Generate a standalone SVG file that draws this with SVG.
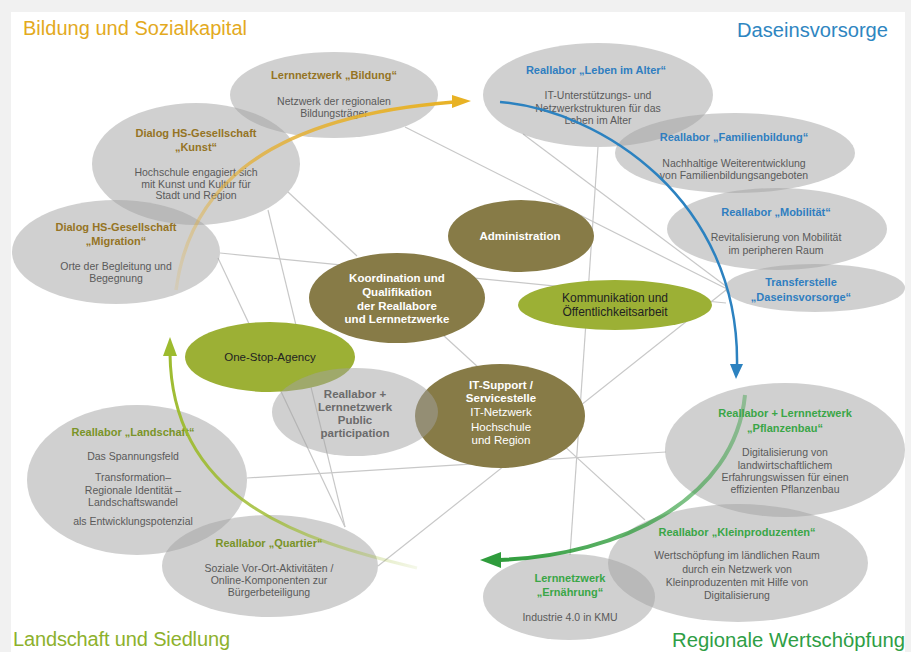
<svg xmlns="http://www.w3.org/2000/svg" width="911" height="652" viewBox="0 0 911 652">
<style>
.g{fill:#a1a1a1;fill-opacity:0.5}
.o{fill:#877b47}
.lg{fill:#9cb035}
text{font-family:"Liberation Sans",Arial,sans-serif;text-anchor:middle}
.tt{font-size:11px;font-weight:bold}
.b{font-size:10.5px;fill:#5a5a5a}
.gold{fill:#957424}
.blue{fill:#2f7ec0}
.olv{fill:#7a9428}
.grn{fill:#3aa647}
.w{fill:#ffffff;font-size:11.5px}
.wb{fill:#ffffff;font-size:11.5px;font-weight:bold}
.dk{fill:#222222;font-size:12px}
.pp{fill:#6b6b6b;font-size:11.5px;font-weight:bold}
.cat{font-size:20px}
.conn line{stroke:#c8c8c8;stroke-width:1.2;fill:none}
</style>
<defs>
<linearGradient id="gGold" gradientUnits="userSpaceOnUse" x1="176" y1="290" x2="460" y2="102">
<stop offset="0" stop-color="#e3b03a" stop-opacity="0.15"/>
<stop offset="0.4" stop-color="#e3b03a" stop-opacity="0.8"/>
<stop offset="1" stop-color="#e8b224" stop-opacity="1"/>
</linearGradient>
<linearGradient id="gOlive" gradientUnits="userSpaceOnUse" x1="417" y1="568" x2="170" y2="354">
<stop offset="0" stop-color="#9dbb2e" stop-opacity="0.1"/>
<stop offset="0.45" stop-color="#9dbb2e" stop-opacity="0.8"/>
<stop offset="1" stop-color="#9dbb2e" stop-opacity="1"/>
</linearGradient>
<linearGradient id="gGreen" gradientUnits="userSpaceOnUse" x1="745" y1="395" x2="500" y2="560">
<stop offset="0" stop-color="#2f9c3c" stop-opacity="0.4"/>
<stop offset="1" stop-color="#2f9c3c" stop-opacity="1"/>
</linearGradient>
</defs>

<rect x="0" y="0" width="911" height="652" fill="#f1f1f1"/>
<rect x="11" y="12" width="894" height="640" fill="#ffffff"/>

<g id="categories">
<text class="cat" x="23" y="35" style="text-anchor:start;fill:#e3aa1e" textLength="224" lengthAdjust="spacing">Bildung  und  Sozialkapital</text>
<text class="cat" x="888" y="37" style="text-anchor:end;fill:#2e86c1" textLength="151" lengthAdjust="spacingAndGlyphs">Daseinsvorsorge</text>
<text class="cat" x="13" y="646" style="text-anchor:start;fill:#8db12c" textLength="217" lengthAdjust="spacing">Landschaft und  Siedlung</text>
<text class="cat" x="672" y="647" style="text-anchor:start;fill:#2e9e45" textLength="233" lengthAdjust="spacingAndGlyphs">Regionale Wertschöpfung</text>
</g>

<g class="conn" id="connectors">
<line x1="405" y1="127" x2="725" y2="288"/>
<line x1="523" y1="134" x2="727" y2="287"/>
<line x1="598" y1="147" x2="570" y2="555"/>
<line x1="288" y1="192" x2="357" y2="256"/>
<line x1="268" y1="210" x2="345" y2="527"/>
<line x1="218" y1="258" x2="345" y2="527"/>
<line x1="220" y1="253" x2="726" y2="303"/>
<line x1="726" y1="290" x2="378" y2="566"/>
<line x1="443" y1="335" x2="645" y2="520"/>
<line x1="247" y1="478" x2="666" y2="452"/>
</g>

<g id="n-bildung">
<ellipse class="g" cx="334" cy="95" rx="104" ry="43"/>
<text class="tt gold" x="334" y="79">Lernnetzwerk „Bildung“</text>
<text class="b" x="334" y="105">Netzwerk der regionalen</text>
<text class="b" x="334" y="116.5">Bildungsträger</text>
</g>
<g id="n-kunst">
<ellipse class="g" cx="196" cy="164" rx="104" ry="61"/>
<text class="tt gold" x="196" y="137">Dialog HS-Gesellschaft</text>
<text class="tt gold" x="196" y="151">„Kunst“</text>
<text class="b" x="196" y="176">Hochschule engagiert sich</text>
<text class="b" x="196" y="187.5">mit Kunst und Kultur für</text>
<text class="b" x="196" y="199">Stadt und Region</text>
</g>
<g id="n-migration">
<ellipse class="g" cx="116" cy="252" rx="104" ry="52"/>
<text class="tt gold" x="116" y="231">Dialog HS-Gesellschaft</text>
<text class="tt gold" x="116" y="245">„Migration“</text>
<text class="b" x="116" y="270">Orte der Begleitung und</text>
<text class="b" x="116" y="282">Begegnung</text>
</g>

<g id="n-leben">
<ellipse class="g" cx="598" cy="95" rx="115" ry="52"/>
<text class="tt blue" x="596" y="74">Reallabor „Leben im Alter“</text>
<text class="b" x="598" y="99">IT-Unterstützungs- und</text>
<text class="b" x="598" y="111.5">Netzwerkstrukturen für das</text>
<text class="b" x="598" y="123.5">Leben im Alter</text>
</g>
<g id="n-familie">
<ellipse class="g" cx="735" cy="153" rx="120" ry="40"/>
<text class="tt blue" x="734" y="141">Reallabor „Familienbildung“</text>
<text class="b" x="734" y="167">Nachhaltige Weiterentwicklung</text>
<text class="b" x="734" y="178.5">von Familienbildungsangeboten</text>
</g>
<g id="n-mobil">
<ellipse class="g" cx="777" cy="229" rx="110" ry="41"/>
<text class="tt blue" x="776" y="216">Reallabor „Mobilität“</text>
<text class="b" x="776" y="241">Revitalisierung von Mobilität</text>
<text class="b" x="776" y="254">im peripheren Raum</text>
</g>
<g id="n-transfer">
<ellipse class="g" cx="815" cy="288" rx="90" ry="24"/>
<text class="tt blue" x="801" y="286">Transferstelle</text>
<text class="tt blue" x="801" y="301">„Daseinsvorsorge“</text>
</g>

<g id="n-admin">
<ellipse class="o" cx="521" cy="236" rx="73" ry="36"/>
<text class="wb" x="520" y="240">Administration</text>
</g>
<g id="n-koord">
<ellipse class="o" cx="397" cy="298" rx="88" ry="45"/>
<text class="wb" x="397" y="282">Koordination  und</text>
<text class="wb" x="397" y="296">Qualifikation</text>
<text class="wb" x="397" y="309.5">der Reallabore</text>
<text class="wb" x="397" y="323">und Lernnetzwerke</text>
</g>
<g id="n-komm">
<ellipse class="lg" cx="615" cy="305" rx="97" ry="25"/>
<text class="dk" x="615" y="302">Kommunikation und</text>
<text class="dk" x="615" y="316">Öffentlichkeitsarbeit</text>
</g>
<g id="n-onestop">
<ellipse class="lg" cx="270" cy="357" rx="85" ry="35"/>
<text class="dk" style="font-size:11.5px" x="270" y="361">One-Stop-Agency</text>
</g>
<g id="n-it">
<ellipse class="o" cx="500" cy="416" rx="85" ry="52"/>
<text class="wb" x="501" y="389">IT-Support  /</text>
<text class="wb" x="501" y="402">Servicestelle</text>
<text class="w" x="501" y="416">IT-Netzwerk</text>
<text class="w" x="501" y="430.5">Hochschule</text>
<text class="w" x="501" y="444">und Region</text>
</g>
<g id="n-public">
<ellipse class="g" cx="355" cy="412" rx="83" ry="44"/>
<text class="pp" x="355" y="398">Reallabor +</text>
<text class="pp" x="355" y="411">Lernnetzwerk</text>
<text class="pp" x="355" y="424">Public</text>
<text class="pp" x="355" y="437">participation</text>
</g>

<g id="n-landschaft">
<ellipse class="g" cx="137" cy="480" rx="110" ry="75"/>
<text class="tt olv" x="133" y="436">Reallabor „Landschaft“</text>
<text class="b" x="133" y="460">Das Spannungsfeld</text>
<text class="b" x="133" y="480.5">Transformation–</text>
<text class="b" x="133" y="494">Regionale Identität –</text>
<text class="b" x="133" y="505.5">Landschaftswandel</text>
<text class="b" x="133" y="524.5">als Entwicklungspotenzial</text>
</g>
<g id="n-quartier">
<ellipse class="g" cx="270" cy="566" rx="108" ry="51"/>
<text class="tt olv" x="269" y="547">Reallabor „Quartier“</text>
<text class="b" x="269" y="572">Soziale  Vor-Ort-Aktivitäten /</text>
<text class="b" x="269" y="584">Online-Komponenten  zur</text>
<text class="b" x="269" y="596">Bürgerbeteiligung</text>
</g>
<g id="n-pflanzen">
<ellipse class="g" cx="785" cy="450" rx="120" ry="67"/>
<text class="tt grn" x="785" y="417">Reallabor + Lernnetzwerk</text>
<text class="tt grn" x="785" y="432">„Pflanzenbau“</text>
<text class="b" x="785" y="456">Digitalisierung  von</text>
<text class="b" x="785" y="468.5">landwirtschaftlichem</text>
<text class="b" x="785" y="481">Erfahrungswissen für einen</text>
<text class="b" x="785" y="492.5">effizienten Pflanzenbau</text>
</g>
<g id="n-klein">
<ellipse class="g" cx="738" cy="563" rx="130" ry="59"/>
<text class="tt grn" x="737" y="536">Reallabor „Kleinproduzenten“</text>
<text class="b" x="737" y="559">Wertschöpfung im ländlichen Raum</text>
<text class="b" x="737" y="572.5">durch ein Netzwerk von</text>
<text class="b" x="737" y="586">Kleinproduzenten mit Hilfe von</text>
<text class="b" x="737" y="598.5">Digitalisierung</text>
</g>
<g id="n-ernaehrung">
<ellipse class="g" cx="569" cy="597" rx="86" ry="43"/>
<text class="tt grn" x="570" y="582">Lernnetzwerk</text>
<text class="tt grn" x="570" y="596">„Ernährung“</text>
<text class="b" x="570" y="621">Industrie 4.0 in KMU</text>
</g>

<g id="arrows">
<path d="M176,290 C188,200 250,118 454,102" fill="none" stroke="url(#gGold)" stroke-width="3.5"/>
<polygon points="471,101 452,95 452,108" fill="#e8b224"/>
<path d="M500,102 C600,110 740,200 737,366" fill="none" stroke="#2c82c0" stroke-width="2.5"/>
<polygon points="736,379 730,364 743,364" fill="#2c82c0"/>
<path d="M417,568 C300,540 172,500 170,354" fill="none" stroke="url(#gOlive)" stroke-width="3"/>
<polygon points="170,337 163,356 177,356" fill="#9dbb2e"/>
<path d="M745,395 C735,500 620,555 500,560" fill="none" stroke="url(#gGreen)" stroke-width="4"/>
<polygon points="480,560 501,552 501,568" fill="#2f9c3c"/>
</g>
</svg>
